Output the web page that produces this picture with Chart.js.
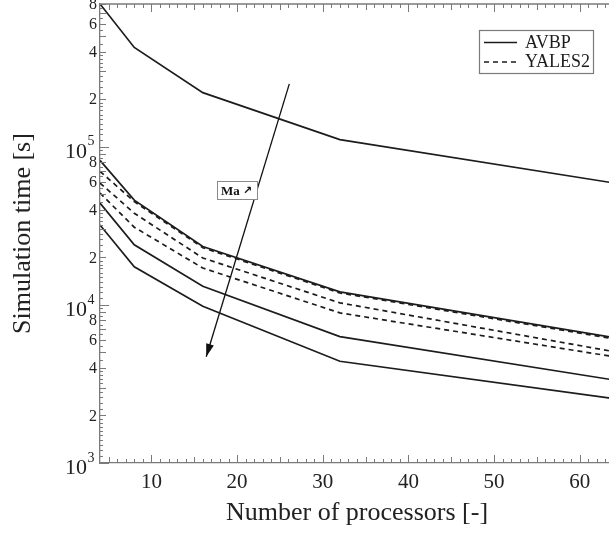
<!DOCTYPE html>
<html>
<head>
<meta charset="utf-8">
<script src="https://cdn.jsdelivr.net/npm/chart.js@4.4.1/dist/chart.umd.min.js"></script>
<style>
  html, body { margin: 0; padding: 0; background: #fff; overflow: hidden; }
  #wrap { position: relative; width: 614px; height: 542px; }
</style>
</head>
<body>
<div id="wrap"><canvas id="chart"></canvas></div>
<script>
const SERIF = '"Liberation Serif", "Times New Roman", serif';

// number of processors
const processors = [4, 8, 16, 32, 64];
const xTickValues = [10, 20, 30, 40, 50, 60];

// simulation time [s], solid curves (AVBP)
const avbpA = [8.0e5, 4.25e5, 2.2e5, 1.11e5, 5.9e4];
const avbpB = [8.2e4, 4.6e4, 2.34e4, 1.21e4, 6.2e3];
const avbpC = [4.4e4, 2.4e4, 1.31e4, 6.3e3, 3.35e3];
const avbpD = [3.2e4, 1.74e4, 9.8e3, 4.4e3, 2.55e3];

// simulation time [s], dashed curves (YALES2)
const yalesA = [7.0e4, 4.5e4, 2.3e4, 1.19e4, 6.1e3];
const yalesB = [5.9e4, 3.8e4, 1.98e4, 1.03e4, 5.06e3];
const yalesC = [5.1e4, 3.1e4, 1.71e4, 8.9e3, 4.7e3];

// "Ma increases" arrow, start -> tip
const arrowX = [26.1, 16.4];
const arrowY = [2.5e5, 4.7e3];

// Ma label anchor
const maLabel = { x: 20, y: 5.3e4, text: 'Ma' };

// y axis labels
const yDecades = [1e3, 1e4, 1e5];
const yMinorLabels = [2, 4, 6, 8];

const pts = (ys) => processors.map((p, i) => ({ x: p, y: ys[i] }));

const solid = (label, ys) => ({
  label, data: pts(ys), borderColor: '#1c1c1c', borderWidth: 1.7,
  pointRadius: 0, tension: 0, fill: false
});
const dashed = (label, ys) => ({
  label, data: pts(ys), borderColor: '#1c1c1c', borderWidth: 1.7,
  borderDash: [5, 4], pointRadius: 0, tension: 0, fill: false
});

const axisDecor = {
  id: 'axisDecor',
  afterDraw(chart) {
    const { ctx, chartArea: a, scales } = chart;
    const xs = scales.x, ys = scales.y;
    ctx.save();
    ctx.strokeStyle = '#7a7a7a';
    ctx.lineWidth = 1.3;

    // top frame line
    ctx.beginPath();
    ctx.moveTo(a.left, a.top);
    ctx.lineTo(a.right, a.top);
    ctx.stroke();

    // x ticks, bottom and top, pointing inside
    ctx.lineWidth = 1;
    for (let v = 5; v <= 64; v++) {
      const len = v % 10 === 0 ? 8 : (v % 5 === 0 ? 6 : 4);
      const px = Math.round(xs.getPixelForValue(v)) + 0.5;
      ctx.beginPath();
      ctx.moveTo(px, a.bottom);
      ctx.lineTo(px, a.bottom - len);
      ctx.moveTo(px, a.top);
      ctx.lineTo(px, a.top + len);
      ctx.stroke();
    }

    // y ticks on the left
    const yTick = (v, len) => {
      if (v < ys.min || v > ys.max) return;
      const py = Math.round(ys.getPixelForValue(v)) + 0.5;
      ctx.beginPath();
      ctx.moveTo(a.left, py);
      ctx.lineTo(a.left + len, py);
      ctx.stroke();
    };
    yDecades.forEach(d => {
      yTick(d, 9);
      for (let m = 2; m <= 9; m++) yTick(m * d, 6);
      for (let m = 1.1; m < 1.95; m += 0.1) yTick(m * d, 3);
      for (let m = 2.2; m < 3.95; m += 0.2) yTick(m * d, 3);
      for (let m = 4.5; m < 9.95; m += 1) yTick(m * d, 3);
    });

    // y labels
    ctx.fillStyle = '#222';
    yDecades.forEach(d => {
      const py = ys.getPixelForValue(d);
      ctx.font = '22px ' + SERIF;
      ctx.textAlign = 'right';
      ctx.textBaseline = 'middle';
      ctx.fillText('10', 87, py + 5);
      ctx.font = '14px ' + SERIF;
      ctx.textAlign = 'left';
      ctx.fillText(String(Math.round(Math.log10(d))), 87.5, py - 5);
      ctx.font = '16px ' + SERIF;
      ctx.textAlign = 'right';
      yMinorLabels.forEach(m => {
        const v = m * d;
        if (v > ys.max + 1) return;
        ctx.fillText(String(m), 97, ys.getPixelForValue(v) + 1);
      });
    });

    // arrowhead on the Ma arrow
    const meta = chart.getDatasetMeta(chart.data.datasets.length - 1);
    const p0 = meta.data[0], p1 = meta.data[1];
    const ang = Math.atan2(p1.y - p0.y, p1.x - p0.x);
    const L = 13, W = 4;
    ctx.fillStyle = '#111';
    ctx.beginPath();
    ctx.moveTo(p1.x, p1.y);
    ctx.lineTo(p1.x - L * Math.cos(ang) + W * Math.sin(ang), p1.y - L * Math.sin(ang) - W * Math.cos(ang));
    ctx.lineTo(p1.x - L * Math.cos(ang) - W * Math.sin(ang), p1.y - L * Math.sin(ang) + W * Math.cos(ang));
    ctx.closePath();
    ctx.fill();

    // Ma label box
    const mx = xs.getPixelForValue(maLabel.x), my = ys.getPixelForValue(maLabel.y);
    ctx.fillStyle = '#fff';
    ctx.fillRect(mx - 20, my - 9, 40, 18);
    ctx.strokeStyle = '#8a8a8a';
    ctx.lineWidth = 1;
    ctx.strokeRect(Math.round(mx - 20) + 0.5, Math.round(my - 9) + 0.5, 40, 18);
    ctx.fillStyle = '#111';
    ctx.font = 'bold 13px ' + SERIF;
    ctx.textAlign = 'left';
    ctx.textBaseline = 'middle';
    ctx.fillText(maLabel.text, mx - 16, my + 1);
    ctx.font = 'bold 11px "DejaVu Sans", sans-serif';
    ctx.fillText('\u2197', mx + 6, my + 1);

    // legend
    const lx = 479.5, ly = 30.5, lw = 114, lh = 43;
    ctx.fillStyle = '#fff';
    ctx.fillRect(lx, ly, lw, lh);
    ctx.strokeStyle = '#7a7a7a';
    ctx.lineWidth = 1.2;
    ctx.strokeRect(lx, ly, lw, lh);
    ctx.strokeStyle = '#1c1c1c';
    ctx.lineWidth = 1.5;
    ctx.beginPath();
    ctx.moveTo(484, 42.5);
    ctx.lineTo(517, 42.5);
    ctx.stroke();
    ctx.setLineDash([5, 4]);
    ctx.beginPath();
    ctx.moveTo(484, 62);
    ctx.lineTo(518, 62);
    ctx.stroke();
    ctx.setLineDash([]);
    ctx.fillStyle = '#1c1c1c';
    ctx.font = '18px ' + SERIF;
    ctx.textAlign = 'left';
    ctx.textBaseline = 'middle';
    ctx.fillText('AVBP', 525, 43);
    ctx.fillText('YALES2', 525, 62.5);
    ctx.restore();
  }
};

new Chart(document.getElementById('chart'), {
  type: 'line',
  data: {
    datasets: [
      solid('AVBP', avbpA),
      solid('AVBP', avbpB),
      solid('AVBP', avbpC),
      solid('AVBP', avbpD),
      dashed('YALES2', yalesA),
      dashed('YALES2', yalesB),
      dashed('YALES2', yalesC),
      {
        label: 'Ma', data: arrowX.map((x, i) => ({ x, y: arrowY[i] })),
        borderColor: '#111', borderWidth: 1.3, pointRadius: 0, tension: 0
      }
    ]
  },
  options: {
    responsive: true,
    maintainAspectRatio: false,
    animation: false,
    layout: { padding: { top: 4, right: 0, left: 0, bottom: 0 } },
    plugins: { legend: { display: false }, tooltip: { enabled: false } },
    scales: {
      x: {
        type: 'linear', min: 4, max: 64,
        grid: { display: false, drawTicks: false },
        border: { display: true, color: '#7a7a7a', width: 1.3 },
        ticks: {
          padding: 7, color: '#222',
          font: { family: SERIF, size: 21 }
        },
        afterBuildTicks: (s) => { s.ticks = xTickValues.map(v => ({ value: v })); },
        title: {
          display: true, text: 'Number of processors [-]', color: '#222',
          font: { family: SERIF, size: 26 }, padding: { bottom: 13 }
        },
        afterFit: (s) => { s.height = 79; }
      },
      y: {
        type: 'logarithmic', min: 1000, max: 8e5,
        grid: { display: false, drawTicks: false },
        border: { display: true, color: '#7a7a7a', width: 1.3 },
        ticks: { display: false },
        title: {
          display: true, text: 'Simulation time [s]', color: '#222',
          font: { family: SERIF, size: 26 }, padding: { top: 8 }
        },
        afterFit: (s) => { s.width = 100; }
      }
    }
  },
  plugins: [axisDecor]
});
</script>
</body>
</html>
